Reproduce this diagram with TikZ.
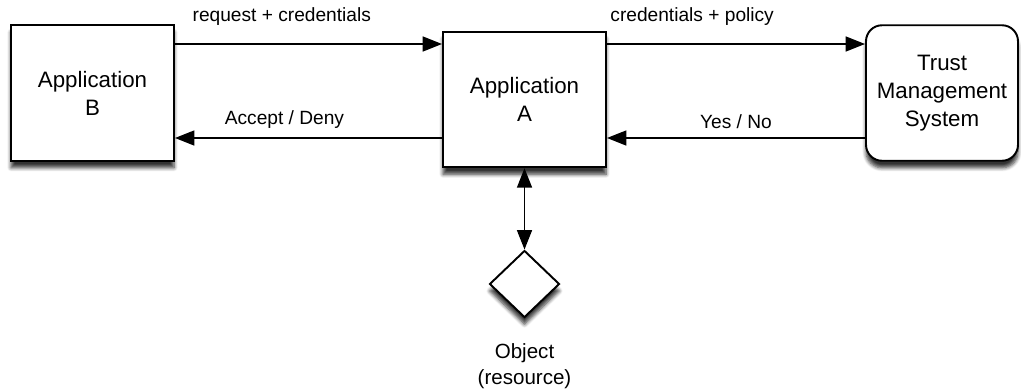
\documentclass[tikz,border=0pt]{standalone}
\usepackage{fontspec}
\setmainfont{Liberation Sans}
\usetikzlibrary{arrows.meta,shapes.geometric,shadows.blur}
\tikzset{
    appbox/.style={draw, line width=1.1pt, fill=white, align=center,
        minimum width=3.26cm, minimum height=2.71cm,
        font=\fontsize{12.7}{15.9}\selectfont,
        blur shadow={shadow xshift=0pt, shadow yshift=-4pt, shadow blur steps=6, shadow opacity=80}},
    link/.style={line width=0.85pt, -{Triangle[length=11pt,width=8.5pt]}},
    biglink/.style={line width=0.85pt, {Triangle[length=11pt,width=8.5pt]}-{Triangle[length=11pt,width=8.5pt]}},
    lbl/.style={font=\fontsize{10.9}{13}\selectfont, inner sep=0pt}
}
\begin{document}
\begin{tikzpicture}
    \useasboundingbox (0, 0) rectangle (20.42, 7.78);
    \node[appbox] (appB) at (1.85, 5.92) {Application\\B};
    \node[appbox] (appA) at (10.49, 5.79) {Application\\A};
    \node[appbox, rounded corners=0.32cm, minimum width=3.04cm] (tms) at (18.84, 5.92) {Trust\\Management\\System};
    \node[appbox, diamond, minimum width=1.4cm, minimum height=1.34cm, inner sep=0pt] (obj) at (10.49, 2.10) {};
    \node[lbl, font=\fontsize{11.7}{14.5}\selectfont, align=center] (objtxt) at (10.49, 0.46) {Object\\(resource)};
    % top pair of arrows
    \draw[link] (appB.east |- 0, 6.90) -- (appA.west |- 0, 6.90) node[lbl, pos=0.4, above=10pt] (req) {request + credentials};
    \draw[link] (appA.east |- 0, 6.90) -- (tms.west |- 0, 6.90) node[lbl, pos=0.33, above=10pt] (cred) {credentials + policy};
    % bottom pair of arrows
    \draw[link] (appA.west |- 0, 5.02) -- (appB.east |- 0, 5.02) node[lbl, pos=0.59, above=5pt] (acc) {Accept / Deny};
    \draw[link] (tms.west |- 0, 5.02) -- (appA.east |- 0, 5.02) node[lbl, pos=0.5, above=5pt] (yes) {Yes / No};
    \draw[biglink] (appA.south) -- (obj.north);
\end{tikzpicture}
\end{document}
